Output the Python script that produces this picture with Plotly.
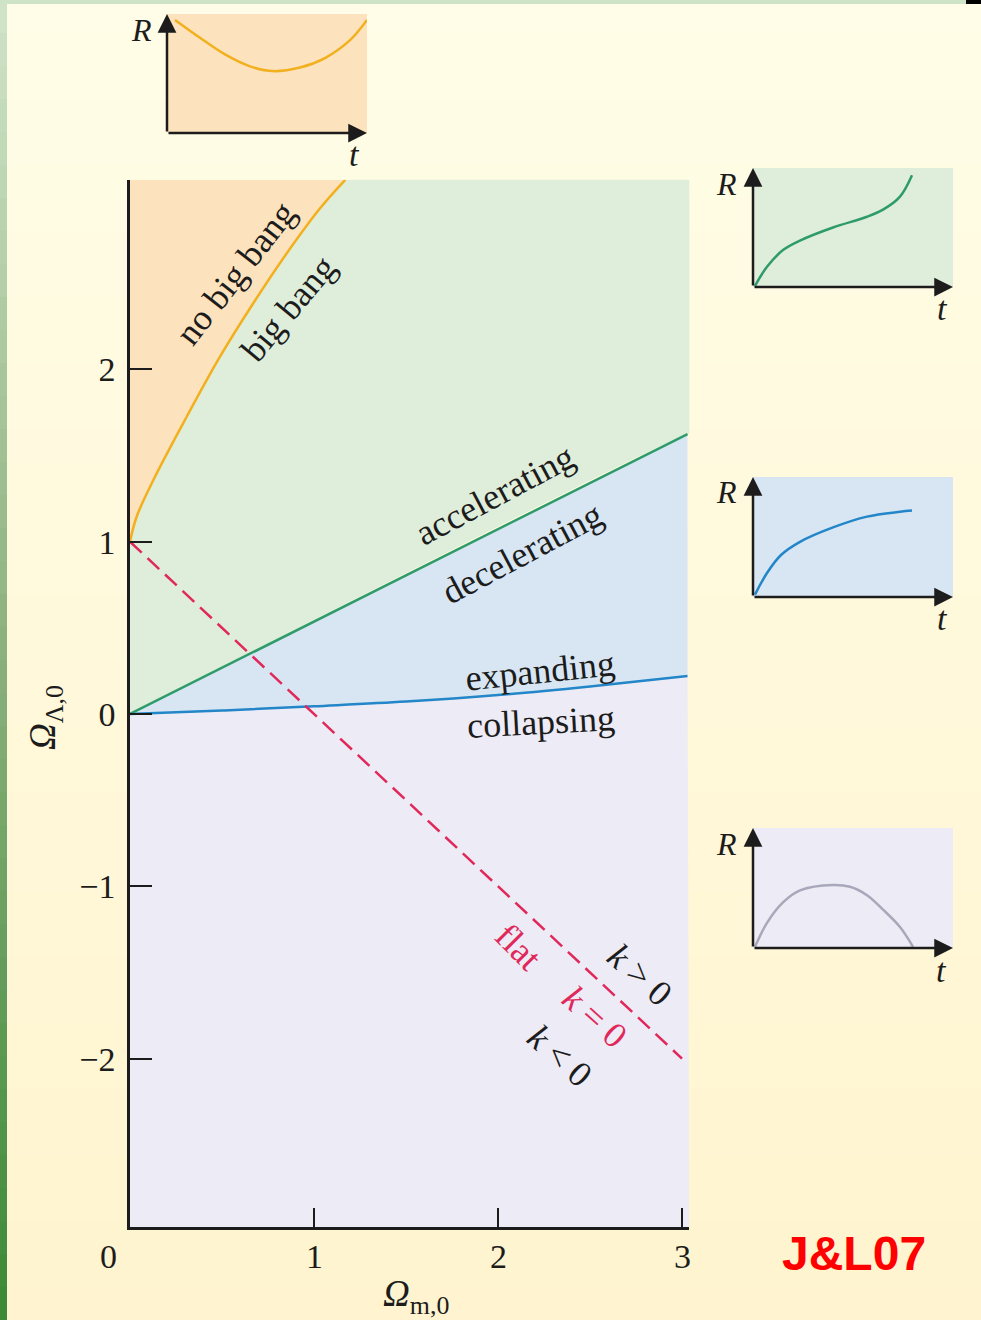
import plotly.graph_objects as go

W, H = 981, 1320

# ---- Ω_m,0 – Ω_Λ,0 plane: region boundaries ----
bang_om = [0.0, 0.036, 0.127, 0.308, 0.489, 0.670, 0.852, 1.033, 1.17]
bang_ol = [1.0, 1.145, 1.358, 1.725, 2.074, 2.384, 2.674, 2.935, 3.10]
accel_om = [0.0, 3.03]
accel_ol = [0.0, 1.625]
expand_om = [0.0, 0.5, 1.0, 1.5, 2.0, 2.5, 3.03]
expand_ol = [0.0, 0.02, 0.045, 0.072, 0.11, 0.16, 0.22]
flat_om = [0.0, 3.0]
flat_ol = [1.0, -2.0]

x_ticks = [0, 1, 2, 3]
x_tick_labels = ["0", "1", "2", "3"]
y_ticks = [-2, -1, 0, 1, 2]
y_tick_labels = ["\u22122", "\u22121", "0", "1", "2"]

OM_MIN, OM_MAX = 0.0, 3.04
OL_MIN, OL_MAX = -2.98, 3.10

# ---- R(t) sketches (normalised t, R) ----
nobang_t = [0.04, 0.165, 0.29, 0.415, 0.53, 0.665, 0.79, 0.915, 1.0]
nobang_r = [0.95, 0.80, 0.66, 0.56, 0.52, 0.55, 0.63, 0.78, 0.95]
accel_t = [0.01, 0.07, 0.15, 0.235, 0.40, 0.57, 0.65, 0.735, 0.795]
accel_r = [0.01, 0.17, 0.31, 0.39, 0.50, 0.59, 0.65, 0.76, 0.94]
decel_t = [0.01, 0.07, 0.14, 0.235, 0.40, 0.57, 0.735, 0.795]
decel_r = [0.02, 0.20, 0.35, 0.46, 0.58, 0.67, 0.71, 0.72]
collapse_t = [0.01, 0.07, 0.15, 0.235, 0.40, 0.485, 0.57, 0.65, 0.735, 0.80]
collapse_r = [0.01, 0.21, 0.38, 0.48, 0.525, 0.51, 0.44, 0.32, 0.175, 0.01]

# ---- colours ----
C_ORANGE_FILL = "#FCE3BD"
C_GREEN_FILL = "#DFEDDB"
C_BLUE_FILL = "#D8E6F3"
C_LAV_FILL = "#EDEBF5"
C_ORANGE = "#F2B01E"
C_GREEN = "#2E9B6B"
C_BLUE = "#2286C8"
C_GRAY = "#A8A8BA"
C_RED = "#E0285A"
INK = "#1c1c1c"
SERIF = "Liberation Serif"

# pixel layout of the main panel
X0PX, XPX = 130.0, 184.0
Y0PX, YPX = 714.0, 172.3


def px(x):
    return x / W


def py(y):
    return 1 - y / H


def label(x, y, text, size, color=INK, angle=0, family=SERIF, xref="paper", yref="paper", **kw):
    return dict(xref=xref, yref=yref, x=x, y=y, text=text, textangle=angle,
                showarrow=False, xanchor="center", yanchor="middle",
                font=dict(family=family, size=size, color=color), **kw)


fig = go.Figure()

# ---- filled regions ----
fig.add_trace(go.Scatter(
    x=expand_om + [OM_MAX, 0.0], y=expand_ol + [OL_MIN, OL_MIN],
    fill="toself", fillcolor=C_LAV_FILL, mode="none", hoverinfo="skip"))
fig.add_trace(go.Scatter(
    x=accel_om + expand_om[::-1], y=accel_ol + expand_ol[::-1],
    fill="toself", fillcolor=C_BLUE_FILL, mode="none", hoverinfo="skip"))
fig.add_trace(go.Scatter(
    x=bang_om + [OM_MAX, OM_MAX] + accel_om[::-1],
    y=bang_ol + [OL_MAX, accel_ol[-1]] + accel_ol[::-1],
    fill="toself", fillcolor=C_GREEN_FILL, mode="none", hoverinfo="skip",
    line_shape="spline"))
fig.add_trace(go.Scatter(
    x=bang_om + [0.0], y=bang_ol + [OL_MAX],
    fill="toself", fillcolor=C_ORANGE_FILL, mode="none", hoverinfo="skip"))

# ---- boundary curves ----
fig.add_trace(go.Scatter(x=expand_om, y=expand_ol, mode="lines", line_shape="spline",
                         line=dict(color=C_BLUE, width=2.5), hoverinfo="skip"))
fig.add_trace(go.Scatter(x=accel_om, y=accel_ol, mode="lines",
                         line=dict(color=C_GREEN, width=2.5), hoverinfo="skip"))
fig.add_trace(go.Scatter(x=bang_om, y=bang_ol, mode="lines", line_shape="spline",
                         line=dict(color=C_ORANGE, width=2.5, smoothing=1.0), hoverinfo="skip"))
fig.add_trace(go.Scatter(x=flat_om, y=flat_ol, mode="lines",
                         line=dict(color=C_RED, width=2.5, dash="16px,8px"), hoverinfo="skip"))

# ---- background (soft vertical gradient + green edge) ----
shapes = []
n_bands = 40
top_rgb, bot_rgb = (255, 253, 231), (255, 244, 207)
for i in range(n_bands):
    f = i / (n_bands - 1)
    c = tuple(round(a + (b - a) * f) for a, b in zip(top_rgb, bot_rgb))
    shapes.append(dict(type="rect", xref="paper", yref="paper", layer="below",
                       x0=0, x1=1, y0=py(H * (i + 1) / n_bands), y1=py(H * i / n_bands),
                       fillcolor="rgb(%d,%d,%d)" % c, line_width=0))
edge_top, edge_mid, edge_bot = (207, 227, 198), (138, 176, 124), (60, 138, 56)
for i in range(n_bands):
    f = i / (n_bands - 1)
    if f < 0.5:
        g = f / 0.5
        c = tuple(round(a + (b - a) * g) for a, b in zip(edge_top, edge_mid))
    else:
        g = (f - 0.5) / 0.5
        c = tuple(round(a + (b - a) * g) for a, b in zip(edge_mid, edge_bot))
    shapes.append(dict(type="rect", xref="paper", yref="paper", layer="below",
                       x0=0, x1=px(7), y0=py(H * (i + 1) / n_bands), y1=py(H * i / n_bands),
                       fillcolor="rgb(%d,%d,%d)" % c, line_width=0))
shapes.append(dict(type="rect", xref="paper", yref="paper", layer="below",
                   x0=0, x1=px(966), y0=py(4), y1=1,
                   fillcolor="rgb(207,227,198)", line_width=0))
shapes.append(dict(type="rect", xref="paper", yref="paper", layer="below",
                   x0=px(966), x1=1, y0=py(4), y1=1, fillcolor="#000000", line_width=0))

# ---- R(t) insets ----
insets = [
    dict(l=167, r=367, t=14, b=133, fill=C_ORANGE_FILL, tt=nobang_t, rr=nobang_r,
         color=C_ORANGE, Rpos=(141, 30), tpos=(354, 154)),
    dict(l=753, r=953, t=168, b=287, fill=C_GREEN_FILL, tt=accel_t, rr=accel_r,
         color=C_GREEN, Rpos=(726, 184), tpos=(942, 308)),
    dict(l=753, r=953, t=477, b=597, fill=C_BLUE_FILL, tt=decel_t, rr=decel_r,
         color=C_BLUE, Rpos=(726, 492), tpos=(942, 618)),
    dict(l=753, r=953, t=828, b=948, fill=C_LAV_FILL, tt=collapse_t, rr=collapse_r,
         color=C_GRAY, Rpos=(726, 844), tpos=(941, 970)),
]

annotations = []
layout_axes = {}
for k, ins in enumerate(insets, start=2):
    shapes.append(dict(type="rect", xref="paper", yref="paper", layer="below",
                       x0=px(ins["l"]), x1=px(ins["r"]), y0=py(ins["b"]), y1=py(ins["t"]),
                       fillcolor=ins["fill"], line_width=0))
    layout_axes["xaxis%d" % k] = dict(domain=[px(ins["l"]), px(ins["r"])], range=[0, 1],
                                      visible=False, fixedrange=True, anchor="y%d" % k)
    layout_axes["yaxis%d" % k] = dict(domain=[py(ins["b"]), py(ins["t"])], range=[0, 1],
                                      visible=False, fixedrange=True, anchor="x%d" % k)
    fig.add_trace(go.Scatter(x=ins["tt"], y=ins["rr"], mode="lines", line_shape="spline",
                             line=dict(color=ins["color"], width=2.5),
                             xaxis="x%d" % k, yaxis="y%d" % k, hoverinfo="skip"))
    # axis arrows
    annotations.append(dict(xref="paper", yref="paper", x=px(ins["l"]), y=py(ins["t"]),
                            ax=0, ay=ins["b"] - ins["t"], text="", showarrow=True,
                            arrowhead=2, arrowsize=1.5, arrowwidth=2.5, arrowcolor=INK))
    annotations.append(dict(xref="paper", yref="paper", x=px(ins["r"]), y=py(ins["b"]),
                            ax=-(ins["r"] - ins["l"]), ay=0, text="", showarrow=True,
                            arrowhead=2, arrowsize=1.5, arrowwidth=2.5, arrowcolor=INK))
    annotations.append(label(px(ins["Rpos"][0]), py(ins["Rpos"][1]), "<i>R</i>", 32))
    annotations.append(label(px(ins["tpos"][0]), py(ins["tpos"][1]), "<i>t</i>", 34))

# ---- region labels ----
region_labels = [
    ("no big bang", 0.576, 2.557, -52, INK),
    ("big bang", 0.864, 2.354, -50, INK),
    ("accelerating", 1.981, 1.271, -28, INK),
    ("decelerating", 2.133, 0.937, -28, INK),
    ("expanding", 2.228, 0.250, -6, INK),
    ("collapsing", 2.236, -0.046, -3, INK),
    ("flat", 2.111, -1.355, 45, C_RED),
    ("<i>k</i> &gt; 0", 2.772, -1.512, 42, INK),
    ("<i>k</i> = 0", 2.527, -1.756, 42, C_RED),
    ("<i>k</i> &lt; 0", 2.337, -1.982, 42, INK),
]
for txt, xx, yy, ang, col in region_labels:
    annotations.append(label(xx, yy, txt, 36, color=col, angle=ang, xref="x", yref="y"))

# Ω_m tick labels (the origin label sits left of the corner)
for tv, tl in zip(x_ticks, x_tick_labels):
    annotations.append(label(tv, py(1256), tl, 34, xref="x",
                             xshift=-22 if tv == 0 else 0))

# axis titles
annotations.append(label(px(45), py(718), "<i>\u03a9</i><sub>\u039b,0</sub>", 37, angle=-90))
annotations.append(label(px(416), py(1296), "<i>\u03a9</i><sub>m,0</sub>", 37))

# source tag
annotations.append(label(px(854), py(1253), "<b>J&amp;L07</b>", 48, color="#FF0000",
                         family="Liberation Sans"))

fig.update_layout(
    width=W, height=H,
    margin=dict(l=0, r=0, t=0, b=0),
    paper_bgcolor="rgba(0,0,0,0)",
    plot_bgcolor="rgba(0,0,0,0)",
    showlegend=False,
    shapes=shapes,
    annotations=annotations,
    xaxis=dict(
        domain=[px(X0PX), px(X0PX + OM_MAX * XPX)], range=[OM_MIN, OM_MAX],
        tickvals=x_ticks[1:], showticklabels=False,
        ticks="inside", ticklen=20, tickwidth=2, tickcolor=INK,
        showline=True, linecolor=INK, linewidth=2.5,
        showgrid=False, zeroline=False, fixedrange=True,
    ),
    yaxis=dict(
        domain=[py(Y0PX - OL_MIN * YPX), py(Y0PX - OL_MAX * YPX)], range=[OL_MIN, OL_MAX],
        tickvals=y_ticks, ticktext=y_tick_labels,
        ticks="inside", ticklen=22, tickwidth=2, tickcolor=INK,
        showline=True, linecolor=INK, linewidth=2.5,
        showgrid=False, zeroline=False, ticklabelstandoff=5,
        tickfont=dict(family=SERIF, size=34, color=INK), fixedrange=True,
    ),
    **layout_axes,
)

fig.write_html("out.html")
